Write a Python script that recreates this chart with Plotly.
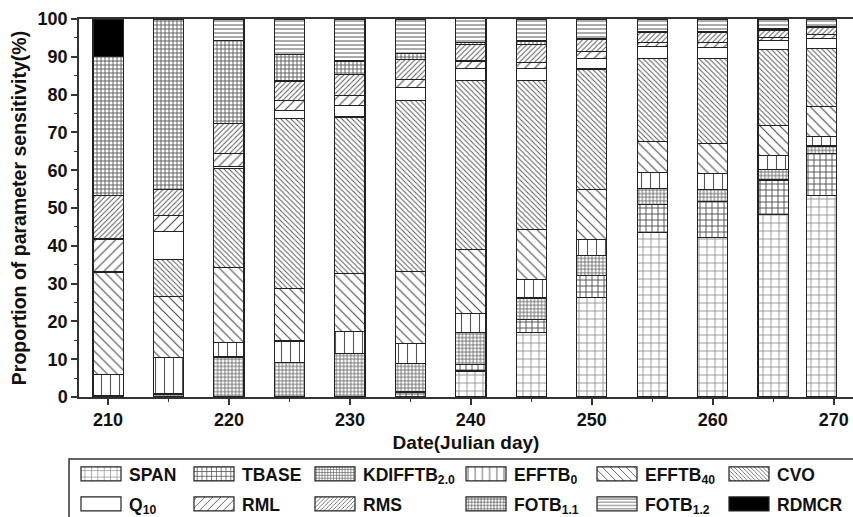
import plotly.graph_objects as go

days = [210, 215, 220, 225, 230, 235, 240, 245, 250, 255, 260, 265, 269]

series_names = ["SPAN", "TBASE", "KDIFFTB<sub>2.0</sub>", "EFFTB<sub>0</sub>", "EFFTB<sub>40</sub>", "CVO",
                "Q<sub>10</sub>", "RML", "RMS", "FOTB<sub>1.1</sub>", "FOTB<sub>1.2</sub>", "RDMCR"]

SPAN    = [0, 0, 0, 0, 0, 0, 6.9, 17.0, 26.4, 43.6, 42.2, 48.3, 53.3]
TBASE   = [0, 0, 0, 0, 0, 1.3, 1.6, 3.5, 5.8, 7.4, 9.5, 9.1, 11.2]
KDIFFTB = [0.4, 0.8, 10.6, 9.1, 11.6, 7.6, 8.5, 5.7, 5.3, 4.2, 3.2, 2.8, 1.9]
EFFTB0  = [5.6, 9.7, 3.9, 5.7, 5.7, 5.3, 5.1, 4.8, 4.2, 4.1, 4.3, 3.6, 2.6]
EFFTB40 = [26.9, 16.0, 19.8, 14.0, 15.4, 19.1, 17.0, 13.4, 13.3, 8.2, 7.9, 8.1, 7.9]
CVO     = [0.4, 9.9, 26.1, 44.9, 41.4, 45.2, 44.7, 39.3, 31.8, 22.1, 22.5, 20.0, 15.3]
Q10     = [0, 7.3, 0.6, 2.2, 3.1, 3.4, 3.2, 3.2, 2.8, 3.1, 2.8, 2.5, 2.7]
RML     = [8.5, 4.3, 3.4, 2.6, 2.5, 2.1, 1.9, 1.5, 1.7, 1.0, 1.3, 0.7, 1.0]
RMS     = [11.6, 6.8, 7.9, 5.1, 5.7, 5.3, 4.3, 4.9, 3.3, 2.8, 2.8, 2.0, 1.8]
FOTB11  = [36.6, 45.2, 22.1, 7.1, 3.5, 1.6, 0.6, 0.9, 0.3, 0.3, 0.3, 0.4, 0.3]
FOTB12  = [0, 0, 5.6, 9.3, 11.1, 9.1, 6.3, 5.8, 5.1, 3.2, 3.2, 2.5, 2.0]
RDMCR   = [10.0, 0, 0, 0, 0, 0, 0, 0, 0, 0, 0, 0, 0]

values = [SPAN, TBASE, KDIFFTB, EFFTB0, EFFTB40, CVO, Q10, RML, RMS, FOTB11, FOTB12, RDMCR]

# pattern styles: (shape, size, solidity, fgcolor, color)
styles = [
    ("+", 8, 0.23, "#9a9a9a", "white"),
    ("+", 6, 0.30, "#555555", "white"),
    ("+", 3.6, 0.42, "#666666", "white"),
    ("|", 9, 0.12, "#555555", "white"),
    ("\\", 7, 0.15, "#444444", "white"),
    ("\\", 3.6, 0.27, "#555555", "white"),
    ("", 8, 0.2, "#555555", "white"),
    ("/", 7, 0.15, "#444444", "white"),
    ("/", 3.6, 0.27, "#555555", "white"),
    ("+", 4, 0.40, "#555555", "white"),
    ("-", 4, 0.25, "#555555", "white"),
    ("", 8, 0.2, "#000000", "black"),
]

# plot area geometry (px)
L, T, W, H = 79, 19, 774, 378

def px2x(px):
    return (px - L) / W

def py2y(py):
    return (T + H - py) / H

text_cols = [129, 242, 363, 514, 645, 777]
rows = [474, 504]

fig = go.Figure()
for i, (name, vals, st) in enumerate(zip(series_names, values, styles)):
    shape, size, sol, fg, col = st
    marker = dict(color=col, line=dict(color="#222222", width=1.2))
    if shape:
        marker["pattern"] = dict(shape=shape, size=size, solidity=sol, fgcolor=fg, bgcolor="white", fillmode="replace")
    lg = "legend" if i == 0 else f"legend{i+1}"
    fig.add_trace(go.Bar(x=days, y=vals, name=name, width=2.5, marker=marker, legend=lg))

layout_legends = {}
for i in range(12):
    r, c = divmod(i, 6)
    key = "legend" if i == 0 else f"legend{i+1}"
    layout_legends[key] = dict(
        x=px2x(text_cols[c] - 56), y=py2y(rows[r]), xanchor="left", yanchor="middle",
        bgcolor="rgba(0,0,0,0)", borderwidth=0, itemwidth=46,
        font=dict(family="Liberation Sans, Arial", size=17.5, color="#111", weight="bold"),
    )

fig.update_layout(
    barmode="stack",
    width=853, height=517,
    margin=dict(l=L, r=0, t=T, b=517 - T - H, autoexpand=False),
    paper_bgcolor="white", plot_bgcolor="white",
    showlegend=True,
    font=dict(family="Liberation Sans, Arial", color="#111"),
    **layout_legends,
)

fig.update_xaxes(
    range=[207.6, 271.6], tickvals=[210, 220, 230, 240, 250, 260, 270],
    ticks="outside", ticklen=6, tickwidth=1.5, tickcolor="#333",
    minor=dict(tickvals=[215, 225, 235, 245, 255, 265], ticks="outside", ticklen=3, tickwidth=1.2, tickcolor="#333"),
    showline=True, linecolor="#333", linewidth=1.5, mirror=True, showgrid=False, zeroline=False,
    tickfont=dict(family="Liberation Sans, Arial", size=18, color="#111", weight="bold"),
    title=dict(text="Date(Julian day)", standoff=6,
               font=dict(family="Liberation Sans, Arial", size=19, color="#111", weight="bold")),
)
fig.update_yaxes(
    range=[0, 100], dtick=10, tick0=0,
    ticks="outside", ticklen=6, tickwidth=1.5, tickcolor="#333",
    minor=dict(dtick=5, ticks="outside", ticklen=3, tickwidth=1.2, tickcolor="#333"),
    showline=True, linecolor="#333", linewidth=1.5, mirror=False, showgrid=False, zeroline=False,
    tickfont=dict(family="Liberation Sans, Arial", size=18, color="#111", weight="bold"),
    title=dict(text="Proportion of parameter sensitivity(%)", standoff=6,
               font=dict(family="Liberation Sans, Arial", size=19.5, color="#111", weight="bold")),
)

# legend frame
fig.add_shape(type="rect", xref="paper", yref="paper",
              x0=px2x(69), x1=px2x(870), y0=py2y(459), y1=py2y(540),
              line=dict(color="#333", width=1.5), fillcolor="rgba(0,0,0,0)", layer="above")

post = """
(function(){
  var gd = document.getElementById('{plot_id}') || document.querySelector('.plotly-graph-div');
  function widenSwatches(){
    if(!gd) return;
    var ps = gd.querySelectorAll('g.legendpoints path');
    for (var k = 0; k < ps.length; k++) { ps[k].setAttribute('d', 'M20,7H-20V-7H20Z'); }
  }
  widenSwatches();
  if (gd && gd.on) { gd.on('plotly_afterplot', widenSwatches); }
  var n = 0;
  var iv = setInterval(function(){ widenSwatches(); n++; if (n > 40) clearInterval(iv); }, 25);
})();
"""
fig.write_html("out.html", post_script=post)
